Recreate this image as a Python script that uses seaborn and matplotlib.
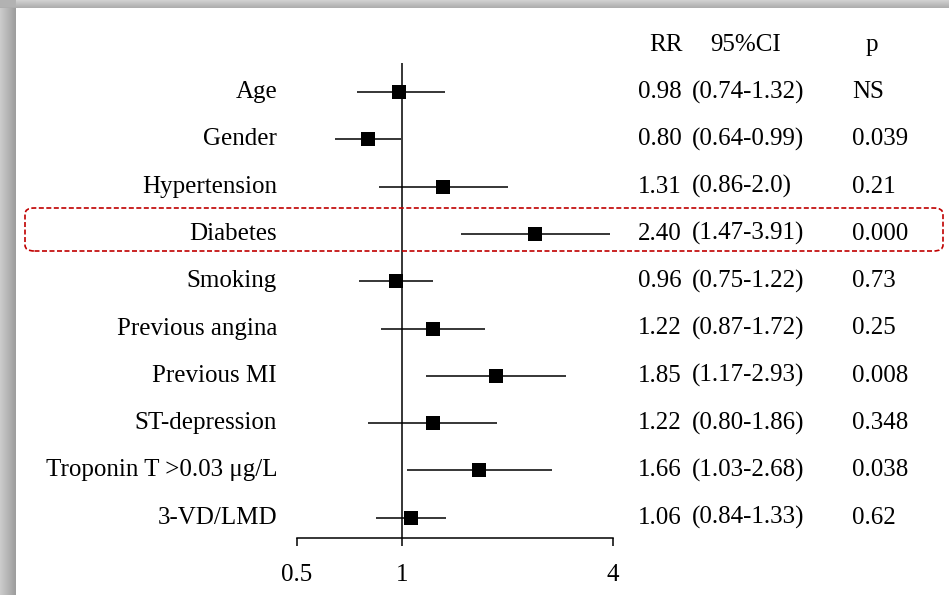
import numpy as np
import pandas as pd
import seaborn as sns
import matplotlib.pyplot as plt
from matplotlib.patches import FancyBboxPatch
from matplotlib.transforms import blended_transform_factory

# forest plot: relative risk with 95% CI per factor
factors = ['Age', 'Gender', 'Hypertension', 'Diabetes', 'Smoking',
           'Previous angina', 'Previous MI', 'ST-depression',
           'Troponin T >0.03 \u03bcg/L', '3-VD/LMD']
rr = [0.98, 0.80, 1.31, 2.40, 0.96, 1.22, 1.85, 1.22, 1.66, 1.06]
ci_low = [0.74, 0.64, 0.86, 1.47, 0.75, 0.87, 1.17, 0.80, 1.03, 0.84]
ci_high = [1.32, 0.99, 2.0, 3.91, 1.22, 1.72, 2.93, 1.86, 2.68, 1.33]
rr_txt = ['0.98', '0.80', '1.31', '2.40', '0.96', '1.22', '1.85', '1.22', '1.66', '1.06']
ci_txt = ['(0.74-1.32)', '(0.64-0.99)', '(0.86-2.0)', '(1.47-3.91)', '(0.75-1.22)',
          '(0.87-1.72)', '(1.17-2.93)', '(0.80-1.86)', '(1.03-2.68)', '(0.84-1.33)']
p_txt = ['NS', '0.039', '0.21', '0.000', '0.73', '0.25', '0.008', '0.348', '0.038', '0.62']
xticks = [0.5, 1, 4]
xtick_labels = ['0.5', '1', '4']

df = pd.DataFrame({'factor': factors, 'rr': rr, 'lo': ci_low, 'hi': ci_high})
df['row'] = np.arange(len(df))

sns.set_theme(style='white')
plt.rcParams['font.family'] = ['Liberation Serif', 'DejaVu Serif']
plt.rcParams['text.color'] = 'black'

W, H = 949, 595
fig = plt.figure(figsize=(W / 100, H / 100), dpi=100)

# page background: grey frame with soft shadow, white sheet
bg = fig.add_axes([0, 0, 1, 1], zorder=-10)
img = np.ones((H, W))
left = np.linspace(0.80, 0.62, 16)
img[:, :16] = left[None, :]
top = np.linspace(0.82, 0.68, 8)
img[:8, :] = top[:, None]
img[:8, :16] = np.minimum(img[:8, :16], 0.7)
bg.imshow(img, cmap='gray', vmin=0, vmax=1, aspect='auto', interpolation='bilinear')
bg.axis('off')

def fx(px):
    return px / W

def fy(py):
    return 1 - py / H

ax_left, ax_right = 297, 613
ax_top, ax_bot = 63, 538
ax = fig.add_axes([fx(ax_left), fy(ax_bot), fx(ax_right - ax_left), (ax_bot - ax_top) / H])
ax.set_facecolor('none')

ax.set_xscale('log', base=2)
ax.set_xlim(0.5, 4)
row0, step = 92, 47.3
ax.set_ylim((ax_bot - row0) / step, (ax_top - row0) / step)

ax.axvline(1, color='black', lw=1.1, zorder=1)
ax.hlines(df['row'], df['lo'], df['hi'], color='black', lw=1.1, zorder=2)
sns.scatterplot(data=df, x='rr', y='row', marker='s', s=95, color='black',
                edgecolor='black', linewidth=0, ax=ax, zorder=3, legend=False)

fs = 18
ax.set_xticks(xticks)
ax.set_xticklabels(xtick_labels)
ax.xaxis.set_minor_locator(plt.NullLocator())
ax.set_yticks([])
ax.set_xlabel('')
ax.set_ylabel('')
for s in ['top', 'left', 'right']:
    ax.spines[s].set_visible(False)
ax.spines['bottom'].set_color('black')
ax.spines['bottom'].set_linewidth(1.1)
ax.tick_params(axis='x', bottom=True, direction='out', length=5.5, width=1.1,
               color='black', labelsize=fs, labelcolor='black', pad=13)

tr = blended_transform_factory(fig.transFigure, ax.transData)
for i in range(len(factors)):
    ax.text(fx(277), i, factors[i], transform=tr, ha='right', va='center', fontsize=fs)
    ax.text(fx(682), i, rr_txt[i], transform=tr, ha='right', va='center', fontsize=fs)
    ax.text(fx(692), i, ci_txt[i], transform=tr, ha='left', va='center', fontsize=fs)
    ax.text(fx(852), i, p_txt[i], transform=tr, ha='left', va='center', fontsize=fs)

hy = fy(45)
fig.text(fx(666), hy, 'RR', ha='center', va='center', fontsize=fs)
fig.text(fx(746), hy, '95%CI', ha='center', va='center', fontsize=fs)
fig.text(fx(872), hy, 'p', ha='center', va='center', fontsize=fs)

# dashed highlight around the Diabetes row
box = FancyBboxPatch((fx(25), fy(251)), fx(943 - 25), (251 - 208) / H,
                     boxstyle='round,pad=0,rounding_size=0.01',
                     transform=fig.transFigure, fill=False,
                     edgecolor='#c00000', linestyle=(0, (3, 1.5)), linewidth=1.2)
fig.patches.append(box)

fig.savefig('out.png', dpi=100)
